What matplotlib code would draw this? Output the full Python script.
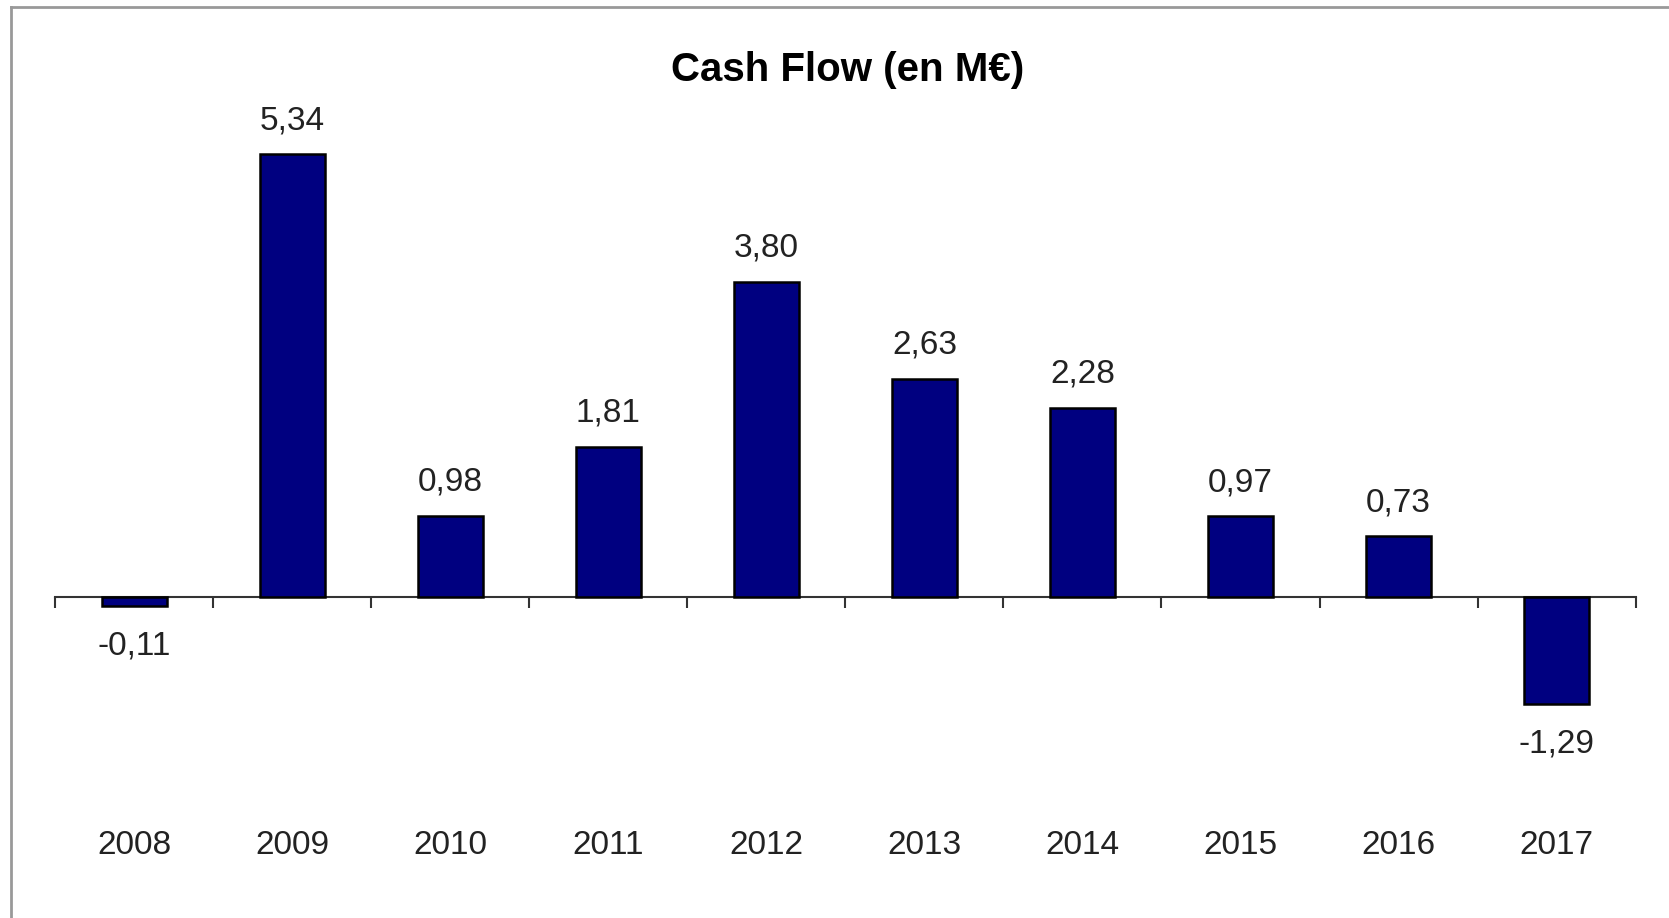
import matplotlib.pyplot as plt
from matplotlib.lines import Line2D

years = ['2008', '2009', '2010', '2011', '2012', '2013', '2014', '2015', '2016', '2017']
cash_flow = [-0.11, 5.34, 0.98, 1.81, 3.80, 2.63, 2.28, 0.97, 0.73, -1.29]
labels = ['-0,11', '5,34', '0,98', '1,81', '3,80', '2,63', '2,28', '0,97', '0,73', '-1,29']

plt.rcParams['font.family'] = ['Liberation Sans', 'DejaVu Sans']

fig = plt.figure(figsize=(16.69, 9.18), dpi=100)
fig.patch.set_facecolor('white')
ax = fig.add_axes([0.033, 0.124, 0.947, 0.759])

x = range(len(years))
ax.bar(x, cash_flow, width=0.41, color='#000080', edgecolor='black',
       linewidth=1.8, zorder=3)

ax.set_xlim(-0.5, len(years) - 0.5)
ax.set_ylim(-2.5, 5.9)

# value labels
for i, (v, t) in enumerate(zip(cash_flow, labels)):
    off = 24 if v >= 0 else -29
    ax.annotate(t, (i, v), xytext=(0, off), textcoords='offset points',
                ha='center', va='center', fontsize=24, color='#222222')

# category axis at zero, labels far below
for s in ['top', 'right', 'left']:
    ax.spines[s].set_visible(False)
ax.spines['bottom'].set_position(('data', 0))
ax.spines['bottom'].set_color('#333333')
ax.spines['bottom'].set_linewidth(1.5)
ax.set_yticks([])
ax.set_xticks(list(x))
ax.set_xticklabels(years, fontsize=24, color='#222222')
ax.tick_params(axis='x', which='major', length=0, pad=168)
ax.set_xticks([i - 0.5 for i in range(len(years) + 1)], minor=True)
ax.tick_params(axis='x', which='minor', length=8, width=1.5, color='#333333',
               direction='out')

fig.text(0.508, 0.924, 'Cash Flow (en M€)', ha='center', va='center',
         fontsize=29, fontweight='bold', color='black')

# outer frame (top and left edges visible)
fig.add_artist(Line2D([11 / 1669, 11 / 1669], [0, 1 - 6.5 / 918],
                      transform=fig.transFigure, color='#999999', linewidth=2))
fig.add_artist(Line2D([11 / 1669, 1], [1 - 6.5 / 918, 1 - 6.5 / 918],
                      transform=fig.transFigure, color='#999999', linewidth=2))

plt.savefig('out.png', dpi=100, facecolor='white')
